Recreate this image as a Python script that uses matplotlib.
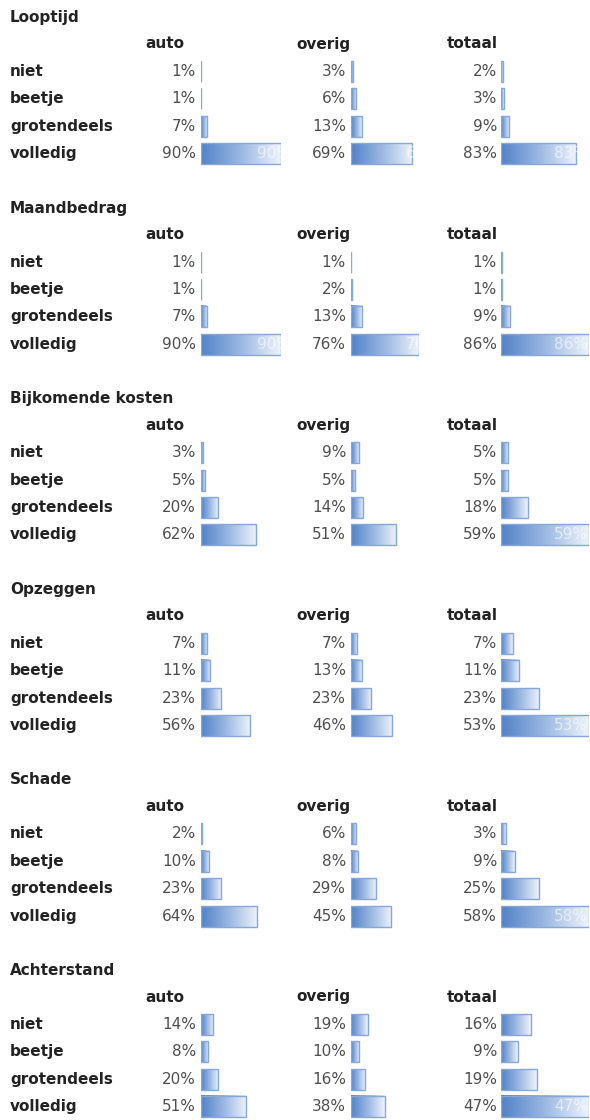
import numpy as np
import matplotlib
matplotlib.use("Agg")
import matplotlib.pyplot as plt
from matplotlib.colors import LinearSegmentedColormap

# ---- data -------------------------------------------------------------
sections = ["Looptijd", "Maandbedrag", "Bijkomende kosten",
            "Opzeggen", "Schade", "Achterstand"]
rows = ["niet", "beetje", "grotendeels", "volledig"]
columns = ["auto", "overig", "totaal"]

auto = [
    [1, 1, 7, 90],
    [1, 1, 7, 90],
    [3, 5, 20, 62],
    [7, 11, 23, 56],
    [2, 10, 23, 64],
    [14, 8, 20, 51],
]
overig = [
    [3, 6, 13, 69],
    [1, 2, 13, 76],
    [9, 5, 14, 51],
    [7, 13, 23, 46],
    [6, 8, 29, 45],
    [19, 10, 16, 38],
]
totaal = [
    [2, 3, 9, 83],
    [1, 1, 9, 86],
    [5, 5, 18, 59],
    [7, 11, 23, 53],
    [3, 9, 25, 58],
    [16, 9, 19, 47],
]

# value that fills a whole data-bar cell (per column / per section)
auto_schaal = 90
overig_schaal = 76
totaal_schaal = [97, 86, 59, 53, 58, 47]

# ---- layout (pixels) --------------------------------------------------
W, H = 590, 1120
fig = plt.figure(figsize=(W / 100, H / 100), dpi=100)
fig.patch.set_facecolor("white")

sec_top0 = 17.5
sec_step = 190.6
header_off = 26.5
row_off = 54.0
row_step = 27.4
bar_px = 21.0
base_shift = 4.5   # baseline sits below the visual centre of a text line

label_x = 10
header_x = {"auto": 145, "overig": 296, "totaal": 447}
value_right = {"auto": 196, "overig": 346, "totaal": 497}
cell_x0 = {"auto": 200.5, "overig": 350.5, "totaal": 501.0}
cell_w = {"auto": 80.0, "overig": 68.0, "totaal": 88.0}
inner_right = {"auto": 291, "overig": 440, "totaal": 588}

dark = "#222222"
grey = "#4e4e4e"
bar_cmap = LinearSegmentedColormap.from_list(
    "databar", ["#5282c7", "#9bb8e2", "#eef3fb"])
edge_col = "#86a7d8"
gradient = np.linspace(0, 1, 256).reshape(1, -1)

FS = 11


def fx(x):
    return x / W


def fy(y):
    return 1 - y / H


def put(x, y, s, ha="left", **kw):
    fig.text(fx(x), fy(y + base_shift), s, fontsize=FS, ha=ha,
             va="baseline", family="DejaVu Sans", **kw)


data_by_col = {"auto": auto, "overig": overig, "totaal": totaal}

for s, title in enumerate(sections):
    top = sec_top0 + s * sec_step
    put(label_x, top, title, fontweight="bold", color=dark)
    for c in columns:
        put(header_x[c], top + header_off, c, fontweight="bold", color=dark)
    for r, name in enumerate(rows):
        put(label_x, top + row_off + r * row_step, name,
            fontweight="bold", color=dark)

    y_first = top + row_off - row_step / 2
    ax_h = len(rows) * row_step
    for c in columns:
        vals = data_by_col[c][s]
        if c == "auto":
            vmax = auto_schaal
        elif c == "overig":
            vmax = overig_schaal
        else:
            vmax = totaal_schaal[s]
        ax = fig.add_axes([fx(cell_x0[c]), fy(y_first + ax_h),
                           fx(cell_w[c]), ax_h / H])
        ax.set_axis_off()
        h = bar_px / row_step
        for i, v in enumerate(vals):
            ax.imshow(gradient, cmap=bar_cmap, aspect="auto",
                      extent=(0, v, i + h / 2, i - h / 2),
                      interpolation="bilinear", zorder=1)
        ax.barh(range(len(vals)), vals, height=h, fill=False,
                edgecolor=edge_col, linewidth=1.0, zorder=2)
        ax.set_xlim(0, vmax)
        ax.set_ylim(len(rows) - 0.5, -0.5)

        for i, v in enumerate(vals):
            yy = top + row_off + i * row_step
            put(value_right[c], yy, f"{v}%", ha="right", color=grey)
            # cell value in white, only visible where the bar lies under it
            put(inner_right[c], yy, f"{v}%", ha="right", color="white",
                alpha=0.6, zorder=5)

fig.savefig("out.png", dpi=100, facecolor="white")
